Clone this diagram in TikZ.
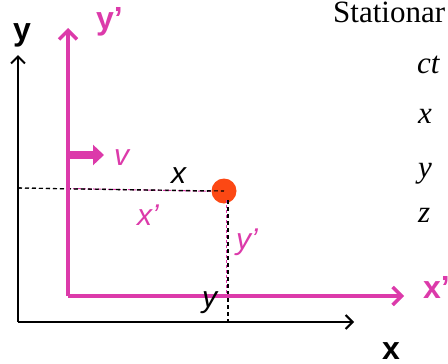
\documentclass[tikz,border=0pt]{standalone}
\usepackage{fontspec}
\setmainfont{Liberation Serif}
\setsansfont{Liberation Sans}
\usetikzlibrary{arrows.meta}
\definecolor{mag}{RGB}{220,58,170}
\definecolor{dotred}{RGB}{252,72,20}
\tikzset{
  lbl/.style={anchor=base west,inner sep=0pt,font=\sffamily\fontsize{32}{36}\selectfont},
  boldlbl/.style={lbl,font=\sffamily\bfseries\fontsize{32}{36}\selectfont},
  itlbl/.style={lbl,font=\sffamily\itshape\fontsize{30}{34}\selectfont},
  serif/.style={anchor=base west,inner sep=0pt,font=\rmfamily\fontsize{31}{36}\selectfont},
  blackaxis/.style={line width=2pt,-{Straight Barb[length=7pt,width=14pt,line width=2pt]}},
  magaxis/.style={mag,line width=3.5pt,-{Straight Barb[length=9pt,width=18pt,line width=3.5pt]}},
  bdash/.style={black,line width=1.1pt,dash pattern=on 4pt off 3pt},
  mdash/.style={mag,line width=1pt,dash pattern=on 3pt off 2pt}
}
\begin{document}
\begin{tikzpicture}[x=1pt,y=-1pt]
\useasboundingbox (0,0) rectangle (448,364);
\clip (0,0) rectangle (448,364);
% coordinates
\coordinate (O) at (18,322);
\coordinate (Ytip) at (18,55);
\coordinate (Xtip) at (354,322);
\coordinate (Op) at (68,296);
\coordinate (Yptip) at (68,28);
\coordinate (Xptip) at (404,296);
\coordinate (vs) at (66,155);
\coordinate (ve) at (104,155);
\coordinate (hl) at (18,188);
\coordinate (hlm) at (68,188.5);
\coordinate (vb) at (228,322);
\coordinate (vbm) at (226,296);
% dashed lines
\draw[bdash] (hl) -- (224,191.5);
\draw[mdash] (hlm) -- (224,191.5);
\node[circle,fill=dotred,minimum size=25pt,inner sep=0pt] (P) at (224,191) {};
\draw[bdash] (228,200) -- (vb);
\draw[mdash] (226,200) -- (vbm);
\draw[bdash] (hl) -- (P.center);
% axes
\draw[blackaxis] (O) -- (Ytip);
\draw[blackaxis] (O) -- (Xtip);
\draw[magaxis] (Op) -- (Yptip);
\draw[magaxis] (Op) -- (Xptip);
% velocity arrow
\draw[mag,line width=8pt,-{Triangle[length=11pt,width=20pt]}] (vs) -- (ve);
% labels
\node[boldlbl] (ly) at (13,40) {y};
\node[boldlbl] (lx) at (382,359) {x};
\node[boldlbl,text=mag] (lyp) at (96,29) {y’};
\node[boldlbl,text=mag] (lxp) at (423,298) {x’};
\node[itlbl,text=mag] (lv) at (114,165) {v};
\node[itlbl] (lxi) at (171,183) {x};
\node[itlbl,text=mag] (lxpi) at (137,225) {x’};
\node[itlbl,text=mag] (lypi) at (236,249) {y’};
\node[itlbl] (lyi) at (202,307) {y};
% right text
\node[serif] (st) at (333,23) {Stationar};
\node[serif] (ct) at (417,73) {\itshape ct};
\node[serif] (rx) at (418,123) {\itshape x};
\node[serif] (ry) at (418,177) {\itshape y};
\node[serif] (rz) at (418,222) {\itshape z};
\end{tikzpicture}
\end{document}
